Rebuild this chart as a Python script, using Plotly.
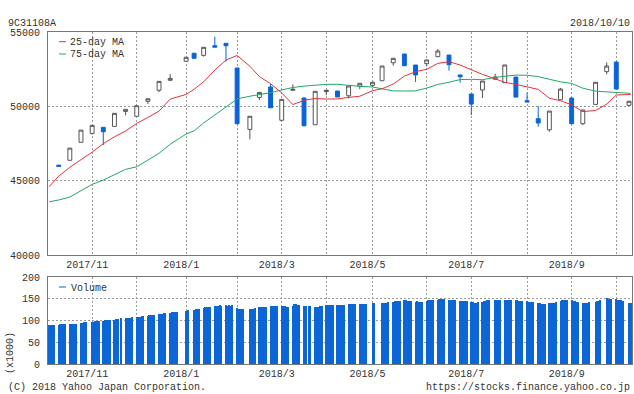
import pandas as pd
import plotly.graph_objects as go

# ---------------- data ----------------
week_dates = [
    "2017-10-16", "2017-10-23", "2017-10-30", "2017-11-06", "2017-11-13", "2017-11-20", "2017-11-27",
    "2017-12-04", "2017-12-11", "2017-12-18", "2017-12-25", "2018-01-04", "2018-01-09", "2018-01-15",
    "2018-01-22", "2018-01-29", "2018-02-05", "2018-02-13", "2018-02-19", "2018-02-26", "2018-03-05",
    "2018-03-12", "2018-03-19", "2018-03-26", "2018-04-02", "2018-04-09", "2018-04-16", "2018-04-23",
    "2018-05-01", "2018-05-07", "2018-05-14", "2018-05-21", "2018-05-28", "2018-06-04", "2018-06-11",
    "2018-06-18", "2018-06-25", "2018-07-02", "2018-07-09", "2018-07-17", "2018-07-23", "2018-07-30",
    "2018-08-06", "2018-08-13", "2018-08-20", "2018-08-27", "2018-09-03", "2018-09-10", "2018-09-18",
    "2018-09-25", "2018-10-01", "2018-10-09",
]
opens = [46040, 46370, 47580, 48180, 48590, 48650, 49660, 49330, 50340, 51080, 51750, 53030, 53570, 53430,
         54080, 54240, 52580, 48450, 50600, 51300, 49060, 51080, 50560, 48760, 50990, 51030, 50710, 51350,
         51410, 51720, 52930, 53520, 52780, 52870, 53340, 53450, 52110, 50830, 51100, 51820, 51590, 51970,
         50380, 49170, 48420, 50440, 50560, 48830, 50130, 52330, 52980, 50070]
highs = [46080, 47190, 48400, 48720, 48590, 49530, 49800, 50040, 50510, 51680, 52170, 53300, 53570, 53970,
         54680, 54240, 52580, 49330, 50940, 51500, 50470, 51480, 50600, 51010, 51080, 51030, 51370, 51550,
         51620, 52710, 53230, 53520, 52780, 53120, 53860, 53450, 52110, 50830, 51700, 52190, 52780, 51970,
         50910, 50020, 49680, 51230, 50560, 49750, 51620, 52960, 52980, 50340]
lows = [45930, 46370, 47580, 48100, 47400, 48650, 49390, 49330, 50150, 50960, 51750, 53030, 53230, 53340,
        53970, 53000, 48830, 47780, 50420, 49900, 49060, 51070, 48690, 48760, 50750, 50620, 50540, 51160,
        51300, 51720, 52730, 52730, 51640, 52690, 53340, 52400, 51590, 49410, 50560, 51820, 51590, 50620,
        50290, 48630, 48290, 50440, 48830, 48740, 50130, 52150, 51160, 50070]
closes = [45960, 47190, 48400, 48720, 48290, 49530, 49800, 50040, 50510, 51680, 51880, 53300, 53230, 53970,
          53980, 54080, 48830, 49330, 50940, 49900, 50470, 51140, 48690, 51010, 51080, 50630, 51370, 51550,
          51620, 52710, 53230, 52730, 52110, 53120, 53720, 52800, 51990, 50150, 51700, 51970, 52780, 50620,
          50290, 48880, 49680, 51160, 48830, 49750, 51620, 52710, 51160, 50340]

ma_dates = ["2017-10-10"] + week_dates + ["2018-10-10"]
ma25 = [44600, 45300, 45900, 46380, 46920, 47490, 47950, 48340, 48850, 49250, 49680, 50490, 50800, 51150,
        51650, 52440, 53110, 53420, 52700, 52000, 51520, 50900, 50120, 50400, 50530, 50490, 50500, 50600,
        50680, 51050, 51180, 51500, 52030, 52330, 52490, 52890, 53000, 52780, 52440, 52150, 51850, 51615,
        51480, 51320, 51140, 50540, 50380, 50100, 49650, 49720, 50150, 50760, 50840, 50800]
ma75 = [43580, 43700, 43900, 44330, 44750, 45040, 45400, 45760, 45935, 46400, 46840, 47450, 48140, 48350,
        48880, 49414, 49970, 50500, 50680, 50780, 50920, 51100, 51270, 51360, 51420, 51480, 51480, 51390,
        51350, 51300, 51170, 51040, 51030, 51040, 51230, 51470, 51620, 51800, 51817, 51790, 51950, 52040,
        52100, 52090, 52000, 51820, 51650, 51540, 51220, 51020, 50990, 50930, 50880, 50870]

holidays = ["2017-11-03", "2017-11-23", "2018-01-01", "2018-01-02", "2018-01-03", "2018-01-08",
            "2018-02-12", "2018-03-21", "2018-04-30", "2018-05-03", "2018-05-04", "2018-07-16",
            "2018-09-17", "2018-09-24", "2018-10-08", "2017-10-09"]
volume_weeks = [  # daily volume (x1000), one list per week starting 2017-10-09
    [89, 90, 90, 90], [90, 91, 92, 92, 92], [92, 92, 93, 93, 93], [94, 95, 96, 96],
    [97, 97, 98, 99, 99], [100, 101, 101, 101, 101], [102, 103, 104, 105], [105, 106, 106, 106, 107],
    [107, 108, 109, 110, 110], [111, 112, 112, 113, 113], [114, 115, 116, 117, 118], [118, 119, 120, 120, 120],
    [122, 123], [125, 126, 126, 127], [129, 130, 131, 131, 132], [133, 134, 134, 135, 134],
    [135, 134, 135, 134, 135], [129, 127, 127, 126, 127], [126, 127, 127, 128], [130, 131, 131, 131, 131],
    [133, 133, 134, 133, 133], [134, 133, 133, 131, 131], [134, 137, 137, 136, 136], [133, 134, 134, 133],
    [131, 132, 132, 133, 133], [136, 136, 136, 136, 135], [135, 135, 136, 136, 135], [137, 138, 138, 138, 138],
    [138, 138, 138, 138, 138], [140, 140], [140, 140, 141, 141, 142], [143, 144, 144, 145, 145],
    [146, 146, 145, 144, 145], [143, 144, 143, 142, 143], [145, 146, 146, 147, 147], [148, 149, 149, 149, 149],
    [148, 148, 147, 147, 146], [145, 145, 145, 145, 145], [143, 142, 141, 141, 142], [143, 144, 145, 146, 147],
    [147, 147, 147, 147], [147, 148, 148, 148, 148], [147, 146, 145, 144, 144], [144, 143, 142, 142, 142],
    [140, 140, 139, 139, 139], [140, 140, 141, 141, 142], [145, 146, 146, 147, 147], [146, 145, 144, 143, 142],
    [140, 140, 141, 141, 142], [143, 144, 145, 146], [151, 150, 149, 149], [149, 148, 147, 146, 145],
    [141, 141],
]

month_tick_dates = ["2017-11-06", "2017-12-04", "2018-01-04", "2018-02-05", "2018-03-05", "2018-04-02",
                    "2018-05-01", "2018-06-04", "2018-07-02", "2018-08-06", "2018-09-03", "2018-10-01"]
month_tick_labels = ["2017/11", "", "2018/1", "", "2018/3", "", "2018/5", "", "2018/7", "", "2018/9", ""]
price_ticks = [40000, 45000, 50000, 55000]
volume_ticks = [0, 50, 100, 150, 200]

# ---------------- build daily volume dates ----------------
hol = set(pd.to_datetime(holidays))
last_day = pd.Timestamp("2018-10-10")
vol_x, vol_y = [], []
for i, vals in enumerate(volume_weeks):
    monday = pd.Timestamp("2017-10-09") + pd.Timedelta(days=7 * i)
    days = [monday + pd.Timedelta(days=k) for k in range(5)]
    days = [d for d in days if d not in hol and d <= last_day]
    for d, v in zip(days, vals):
        vol_x.append(d)
        vol_y.append(v)

# ---------------- styling ----------------
BLUE = "#0a64d8"
RED = "#e8313a"
GREEN = "#22a866"
GRID = "#9a9a9a"
FRAME = "#777777"
TEXT = "#333333"
FONT = "Liberation Mono"

W, H = 634, 394
L, R, T, B = 48, 2, 32, 30
PW, PH = W - L - R, H - T - B


def px(x):
    return (x - L) / PW


def py(y):
    return (H - B - y) / PH


fig = go.Figure()
fig.add_trace(go.Candlestick(
    x=week_dates, open=opens, high=highs, low=lows, close=closes,
    increasing=dict(line=dict(color="#555555", width=1), fillcolor="white"),
    decreasing=dict(line=dict(color=BLUE, width=1), fillcolor=BLUE),
    whiskerwidth=0, showlegend=False, xaxis="x", yaxis="y", hoverinfo="skip"))
fig.add_trace(go.Scatter(x=ma_dates, y=ma75, mode="lines", line=dict(color=GREEN, width=1),
                         showlegend=False, xaxis="x", yaxis="y"))
fig.add_trace(go.Scatter(x=ma_dates, y=ma25, mode="lines", line=dict(color=RED, width=1),
                         showlegend=False, xaxis="x", yaxis="y"))
fig.add_trace(go.Bar(x=vol_x, y=vol_y, marker=dict(color=BLUE, opacity=0.99, line=dict(width=0)),
                     width=0.64 * 86400000, showlegend=False, xaxis="x2", yaxis="y2"))

xrange = ["2017-10-09 07:00", "2018-10-10 21:00"]
axis_common = dict(showline=True, mirror=True, linecolor=FRAME, linewidth=1, zeroline=False,
                   showgrid=True, gridcolor=GRID, gridwidth=1, griddash="2px,2px", ticks="",
                   tickfont=dict(family=FONT, size=10, color=TEXT))

main_bottom = py(255)
vol_top = py(277)

fig.update_layout(
    width=W, height=H, margin=dict(l=L, r=R, t=T, b=B),
    paper_bgcolor="white", plot_bgcolor="white",
    font=dict(family=FONT, size=10, color=TEXT),
    showlegend=False, bargap=0,
    xaxis=dict(type="date", domain=[0, 1], anchor="y", range=xrange,
               tickvals=month_tick_dates, ticktext=month_tick_labels,
               ticklabelshift=-5, ticklabelstandoff=0,
               rangeslider=dict(visible=False), **axis_common),
    yaxis=dict(domain=[main_bottom, 1], anchor="x", range=[40000, 55000],
               tickvals=price_ticks, tickformat="d", ticklabelstandoff=5, **axis_common),
    xaxis2=dict(type="date", domain=[0, 1], anchor="y2", range=xrange,
                tickvals=month_tick_dates, ticktext=month_tick_labels,
                ticklabelshift=-5, ticklabelstandoff=0, **axis_common),
    yaxis2=dict(domain=[0, vol_top], anchor="x2", range=[0, 200],
                tickvals=volume_ticks, tickformat="d", ticklabelstandoff=5, **axis_common),
)

ann = dict(xref="paper", yref="paper", showarrow=False, font=dict(family=FONT, size=10, color=TEXT))
fig.add_annotation(x=px(6), y=py(23), text="9C31108A", xanchor="left", yanchor="middle", **ann)
fig.add_annotation(x=px(632), y=py(23), text="2018/10/10", xanchor="right", yanchor="middle", **ann)
fig.add_annotation(x=px(68), y=py(42.5), text="25-day MA", xanchor="left", yanchor="middle", **ann)
fig.add_annotation(x=px(68), y=py(55), text="75-day MA", xanchor="left", yanchor="middle", **ann)
fig.add_annotation(x=px(69), y=py(288), text="Volume", xanchor="left", yanchor="middle", **ann)
fig.add_annotation(x=px(10), y=py(353), text="(x1000)", textangle=-90, xanchor="center",
                   yanchor="middle", **ann)
fig.add_annotation(x=px(6), y=py(387.5), text="(C) 2018 Yahoo Japan Corporation.", xanchor="left",
                   yanchor="middle", **ann)
fig.add_annotation(x=px(632), y=py(387.5), text="https://stocks.finance.yahoo.co.jp", xanchor="right",
                   yanchor="middle", **ann)

for yy, col in [(41.7, RED), (54, GREEN), (287, BLUE)]:
    fig.add_shape(type="line", xref="paper", yref="paper", x0=px(59), x1=px(66), y0=py(yy), y1=py(yy),
                  line=dict(color=col, width=1))

fig.write_html("out.html", config={"displayModeBar": False},
               post_script="document.body.style.margin='0';document.body.style.padding='0';")
